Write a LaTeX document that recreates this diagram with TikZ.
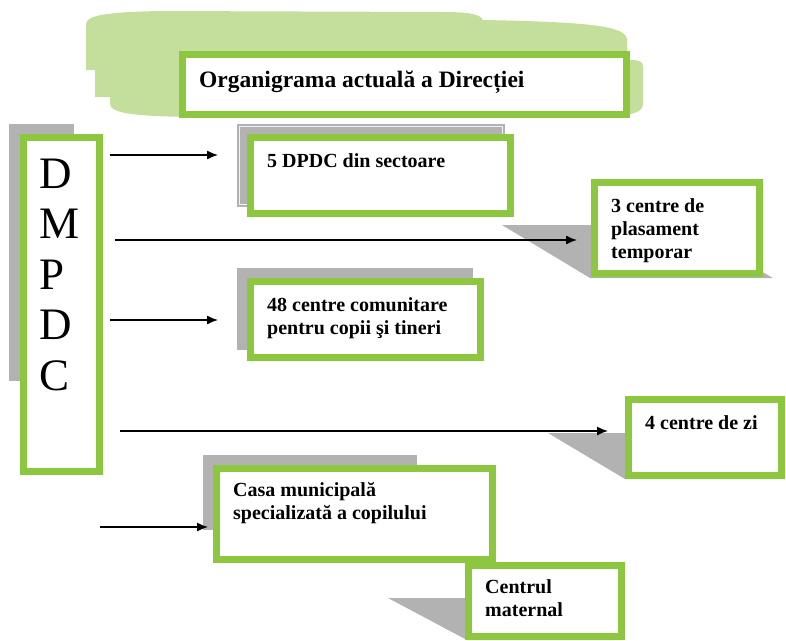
\documentclass[tikz,border=0pt]{standalone}
\usepackage{fontspec}
\setmainfont{Liberation Serif}
\usetikzlibrary{arrows.meta}
\definecolor{boxgreen}{RGB}{141,198,63}
\definecolor{cloudgreen}{RGB}{196,222,156}
\definecolor{shadowgrey}{RGB}{178,178,178}

\begin{document}
\begin{tikzpicture}[x=1pt, y=-1pt,
    greenbox/.style={draw=boxgreen, line width=7pt, fill=white, inner sep=0pt},
    boxtext/.style={font=\fontsize{20}{23}\selectfont\bfseries, align=left, anchor=base west, inner sep=0pt},
    conn/.style={-{Latex[length=11pt, width=9pt]}, line width=1.3pt}]

    \useasboundingbox (0,0) rectangle (786,640);

    % ==========================================
    % Title with the green cloud behind it
    % ==========================================
    \fill[cloudgreen] (86,70) -- (86,24) .. controls (86,15) and (110,12) .. (160,11)
        -- (440,12) .. controls (470,12) and (483,14) .. (483,22) -- (483,70) -- cycle;
    \fill[cloudgreen] (95,97) -- (95,36) .. controls (95,27) and (300,18) .. (483,20)
        .. controls (590,22) and (627,26) .. (627,40) -- (627,97) -- cycle;
    \fill[cloudgreen] (110,60) -- (110,104) .. controls (110,114) and (140,117) .. (210,117)
        -- (570,117) .. controls (630,117) and (643,114) .. (643,104)
        -- (643,66) .. controls (643,61) and (638,60) .. (630,60) -- cycle;

    \node[greenbox, minimum width=444, minimum height=60] (title) at (404.5,84.5) {};
    \node[boxtext, font=\fontsize{23.5}{27}\selectfont\bfseries] (titletext) at (199,87) {Organigrama actuală a Direcției};

    % ==========================================
    % Grey shadows
    % ==========================================
    \fill[shadowgrey] (9,124) rectangle (74,381);
    \fill[shadowgrey] (237,124) rectangle (505,207);
    \draw[white!80!shadowgrey, line width=0.8pt] (239.5,126.5) rectangle (502.5,204.5);
    \fill[shadowgrey] (502,225) -- (680,225) -- (773,278) -- (590,278) -- cycle;
    \fill[shadowgrey] (237,268) rectangle (473,350);
    \fill[shadowgrey] (548,433) -- (700,433) -- (777,479) -- (625,479) -- cycle;
    \fill[shadowgrey] (203,455) rectangle (417,530);
    \fill[shadowgrey] (388,598) -- (540,598) -- (615,640) -- (467,640) -- cycle;

    % ==========================================
    % DMPDC (left column)
    % ==========================================
    \node[greenbox, minimum width=76, minimum height=334] (dmpdc) at (61.5,304.5) {};
    \foreach \l [count=\i] in {D,M,P,D,C}
        \node[font=\fontsize{45}{45}\selectfont, anchor=base west, inner sep=0pt] (letter\i) at (39,137.5+50.5*\i) {\l};

    % ==========================================
    % Boxes on the right (text placed by its last baseline)
    % ==========================================
    % 5 DPDC
    \node[greenbox, minimum width=260, minimum height=76] (dpdc) at (380.5,175.5) {};
    \node[boxtext] (dpdctext) at (267,167) {5 DPDC din sectoare};

    % placement centres
    \node[greenbox, minimum width=165, minimum height=91] (plasament) at (677,228) {};
    \node[boxtext] (plasamenttext) at (611,258) {3 centre de\\plasament\\temporar};

    % community centres
    \node[greenbox, minimum width=230, minimum height=76] (comunitare) at (365.5,319.5) {};
    \node[boxtext] (comunitaretext) at (267,334) {48 centre comunitare\\pentru copii şi tineri};

    % day centres
    \node[greenbox, minimum width=153, minimum height=76] (zi) at (705,437.5) {};
    \node[boxtext] (zitext) at (645,429) {4 centre de zi};

    % Casa municipala
    \node[greenbox, minimum width=276, minimum height=91] (casa) at (354.5,514) {};
    \node[boxtext] (casatext) at (233,519) {Casa municipală\\specializată a copilului};

    % Centrul maternal
    \node[greenbox, minimum width=153, minimum height=71] (maternal) at (545,601) {};
    \node[boxtext] (maternaltext) at (485,616) {Centrul\\maternal};

    % ==========================================
    % Arrows
    % ==========================================
    \foreach \i/\xa/\xb/\y in {1/110/218/155, 2/115/577/240, 3/110/218/320, 4/120/608/431, 5/100/208/527} {
        \coordinate (from\i) at (\xa,\y);
        \coordinate (to\i) at (\xb,\y);
        \draw[conn] (from\i) -- (to\i);
    }

\end{tikzpicture}
\end{document}
